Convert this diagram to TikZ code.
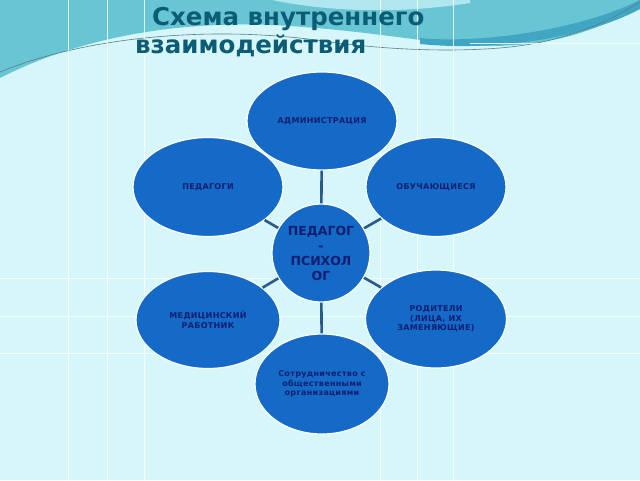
\documentclass[tikz,border=0pt]{standalone}
\usepackage{fontspec}
\setmainfont{DejaVu Sans}
\newfontfamily\spacedfont[LetterSpace=4]{DejaVu Sans}
\usetikzlibrary{shapes.geometric}

\definecolor{bgcyan}{RGB}{214,246,250}
\definecolor{waveteal}{RGB}{104,197,211}
\definecolor{wavedark}{RGB}{64,166,196}
\definecolor{wavelight}{RGB}{176,230,237}
\definecolor{titleteal}{RGB}{12,92,118}
\definecolor{blobblue}{RGB}{20,106,198}
\definecolor{labelnavy}{RGB}{16,30,112}
\definecolor{linkblue}{RGB}{42,90,138}

\begin{document}
\begin{tikzpicture}[x=1pt,y=-1pt,
    blob/.style={ellipse,fill=blobblue,draw=white,line width=1.2pt,inner sep=0pt,
                 align=center,text=labelnavy,font=\spacedfont\bfseries\fontsize{8}{9.5}\selectfont},
    hubnode/.style={circle,fill=blobblue,draw=white,line width=1.2pt,inner sep=0pt,
                 minimum size=98pt,align=center,text=labelnavy,font=\bfseries\fontsize{12.5}{15}\selectfont},
    link/.style={draw=linkblue,line width=2.6pt},
    guide/.style={white,line width=1pt,opacity=0.8},
    titletext/.style={anchor=base west,inner sep=0pt,text=titleteal,font=\bfseries\fontsize{24.5}{28}\selectfont}]

    % background
    \fill[bgcyan] (0,0) rectangle (640,480);
    \useasboundingbox (0,0) rectangle (640,480);

    % waves at the top
    \fill[waveteal] (0,0) -- (0,78) .. controls (70,42) and (170,18) .. (290,26)
        .. controls (380,32) and (430,44) .. (490,46)
        .. controls (560,46) and (610,25) .. (640,5) -- (640,0) -- cycle;
    \fill[wavelight] (272,0) .. controls (330,12) and (400,14) .. (470,3) -- (470,0) -- cycle;
    \fill[wavedark] (420,38) .. controls (480,44) and (580,30) .. (640,0) -- (640,9)
        .. controls (590,36) and (500,52) .. (420,44) -- cycle;
    \draw[gray!70!teal,line width=0.6pt] (0,72) .. controls (90,35) and (220,25) .. (330,42)
        .. controls (390,50) and (450,52) .. (500,48) .. controls (570,42) and (610,20) .. (640,2);

    % guide lines
    \draw[guide] (68,0) -- (68,480);
    \draw[guide] (107,0) -- (107,480);
    \draw[guide] (144,0) -- (144,480);
    \draw[guide] (380,0) -- (380,480);
    \draw[guide] (417,0) -- (417,480);
    \draw[guide] (453,0) -- (453,480);
    \draw[guide] (0,278) -- (640,278);
    \draw[guide] (0,316) -- (640,316);
    \draw[guide] (0,353) -- (640,353);
    \draw[guide] (470,43) -- (640,43);

    % title
    \node[titletext] (title1) at (152,25) {Схема внутреннего};
    \node[titletext] (title2) at (135,53) {взаимодействия};

    % ellipses
    \node[blob,minimum width=150pt,minimum height=98pt] (admin) at (322,121) {АДМИНИСТРАЦИЯ};
    \node[blob,minimum width=150pt,minimum height=99pt] (teachers) at (208,187) {ПЕДАГОГИ};
    \node[blob,minimum width=140pt,minimum height=99pt] (pupils) at (436,187) {ОБУЧАЮЩИЕСЯ};
    \node[blob,minimum width=144pt,minimum height=97pt] (medic) at (208,320) {МЕДИЦИНСКИЙ\\РАБОТНИК};
    \node[blob,minimum width=141pt,minimum height=98pt] (parents) at (436,319) {РОДИТЕЛИ\\(ЛИЦА, ИХ\\ЗАМЕНЯЮЩИЕ)};
    \node[blob,minimum width=134pt,minimum height=100pt] (society) at (322,384) {Сотрудничество с\\общественными\\организациями};

    % centre
    \node[hubnode] (hub) at (321,253) {ПЕДАГОГ\\-\\ПСИХОЛ\\ОГ};

    % connectors
    \draw[link] (hub) -- (admin);
    \draw[link] (hub) -- (teachers);
    \draw[link] (hub) -- (pupils);
    \draw[link] (hub) -- (medic);
    \draw[link] (hub) -- (parents);
    \draw[link] (hub) -- (society);
\end{tikzpicture}
\end{document}
